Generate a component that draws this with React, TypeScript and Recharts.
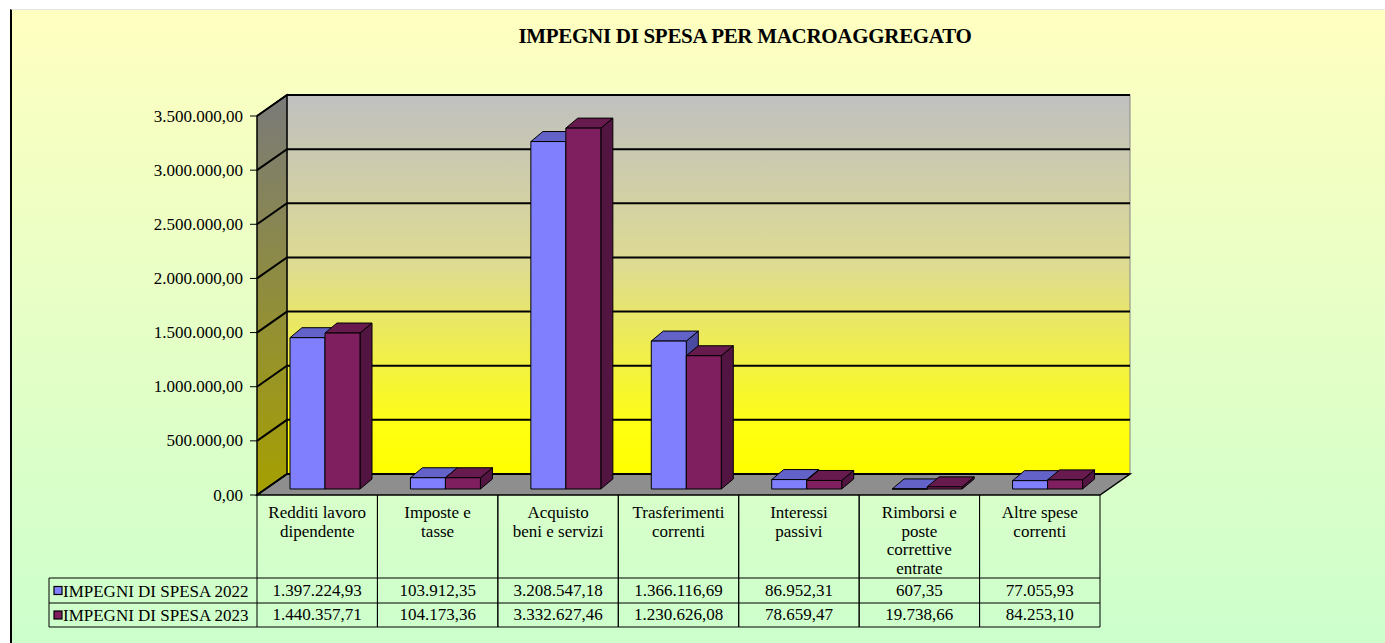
import React from 'react';
import { BarChart, Bar, XAxis, YAxis, CartesianGrid, ReferenceArea } from 'recharts';

const CATEGORIES = [
  'Redditi lavoro\ndipendente',
  'Imposte e\ntasse',
  'Acquisto\nbeni e servizi',
  'Trasferimenti\ncorrenti',
  'Interessi\npassivi',
  'Rimborsi e\nposte\ncorrettive\nentrate',
  'Altre spese\ncorrenti',
];
const SPESA_2022 = [1397224.93, 103912.35, 3208547.18, 1366116.69, 86952.31, 607.35, 77055.93];
const SPESA_2023 = [1440357.71, 104173.36, 3332627.46, 1230626.08, 78659.47, 19738.66, 84253.1];
const SERIES_NAMES = ['IMPEGNI DI SPESA 2022', 'IMPEGNI DI SPESA 2023'];
const Y_TICKS = [0, 500000, 1000000, 1500000, 2000000, 2500000, 3000000, 3500000];
const TITLE = 'IMPEGNI DI SPESA PER MACROAGGREGATO';

const data = CATEGORIES.map((name, i) => ({ name, s2022: SPESA_2022[i], s2023: SPESA_2023[i] }));

const FONT = "'Liberation Serif', 'Times New Roman', serif";
const FONT_SIZE = 17;

// plot area = plane of the bar fronts
const W = 1385;
const H = 643;
const PLOT_LEFT = 265;
const PLOT_RIGHT = 1108;
const PLOT_TOP = 110;
const PLOT_BOTTOM = 489;
const Y_AXIS_W = 60;
const X_AXIS_H = 30;
// offset from bar plane to front edge of the floor / axis
const FX = -8;
const FY = 6;
// full depth of the 3D box
const DX = 30;
const DY = -21;
// depth of bars
const BDX = 12;
const BDY = -10;

const COL_W = (PLOT_RIGHT - PLOT_LEFT) / CATEGORIES.length;
const ROW_HEAD_BOTTOM = 578;
const ROW1_BOTTOM = 603;
const ROW2_BOTTOM = 627;

const COLORS = [
  { front: '#8080FF', top: '#6262C8', side: '#4A4AA0' },
  { front: '#7F1F5F', top: '#661A4D', side: '#521440' },
];

const fmt = (v: number) => {
  const [int, dec] = v.toFixed(2).split('.');
  return int.replace(/\B(?=(\d{3})+(?!\d))/g, '.') + ',' + dec;
};

// serif label used for axis and table text
const T = ({ x, y, anchor = 'middle', children }: any) => (
  <text
    x={x}
    y={y}
    textAnchor={anchor}
    fill="#000"
    stroke="none"
    style={{ fontFamily: FONT, fontSize: FONT_SIZE }}
  >
    {children}
  </text>
);

const makeBox = (c: { front: string; top: string; side: string }) => (props: any) => {
  const { x, y, width, height } = props;
  if (x == null || y == null) return <g />;
  const h = Math.max(height, 0);
  const top = `M${x},${y} L${x + BDX},${y + BDY} L${x + width + BDX},${y + BDY} L${x + width},${y} Z`;
  const side = `M${x + width},${y} L${x + width + BDX},${y + BDY} L${x + width + BDX},${y + h + BDY} L${x + width},${y + h} Z`;
  return (
    <g stroke="#000" strokeWidth={1} strokeLinejoin="round">
      <path d={side} fill={c.side} />
      <path d={top} fill={c.top} />
      <rect x={x} y={y} width={width} height={h} fill={c.front} />
    </g>
  );
};

const Walls = (props: any) => {
  const { x, y, width, height } = props;
  const fl = x + FX;
  const fr = x + width + FX;
  const ft = y + FY;
  const fb = y + height + FY;
  const bl = fl + DX;
  const br = fr + DX;
  const bt = ft + DY;
  const bb = fb + DY;
  return (
    <g>
      <defs>
        <linearGradient id="backWall" x1="0" y1="0" x2="0" y2="1">
          <stop offset="0%" stopColor="#C0C0C0" />
          <stop offset="45%" stopColor="#DEDB92" />
          <stop offset="88%" stopColor="#FFFF10" />
          <stop offset="100%" stopColor="#FFFF00" />
        </linearGradient>
        <linearGradient id="sideWall" x1="0" y1="0" x2="0" y2="1">
          <stop offset="0%" stopColor="#7A7A7A" />
          <stop offset="100%" stopColor="#A6A000" />
        </linearGradient>
      </defs>
      <rect x={bl} y={bt} width={br - bl} height={bb - bt} fill="url(#backWall)" stroke="#888" strokeWidth={1} />
      <path d={`M${fl},${ft} L${bl},${bt} L${bl},${bb} L${fl},${fb} Z`} fill="url(#sideWall)" stroke="#000" strokeWidth={1.5} />
      <path d={`M${fl},${fb} L${bl},${bb} L${br},${bb} L${fr},${fb} Z`} fill="#8E8E8E" stroke="#000" strokeWidth={1.5} />
    </g>
  );
};

const gridLine = (props: any) => {
  const { x1, x2, y1, key } = props;
  const fl = x1 + FX;
  const yf = y1 + FY;
  return (
    <path
      key={key}
      d={`M${fl},${yf} L${fl + DX},${yf + DY} L${x2 + FX + DX},${yf + DY}`}
      fill="none"
      stroke="#000"
      strokeWidth={2}
    />
  );
};

const YTick = (props: any) => {
  const { y, payload } = props;
  const fl = PLOT_LEFT + FX;
  const yf = y + FY;
  return (
    <g>
      <line x1={fl - 7} x2={fl} y1={yf} y2={yf} stroke="#000" strokeWidth={1} />
      <T x={fl - 14} y={yf + 5.5} anchor="end">{fmt(payload.value)}</T>
    </g>
  );
};

const XTick = (props: any) => {
  const { x, payload, index } = props;
  const cx = x + FX;
  const left = cx - COL_W / 2;
  const right = cx + COL_W / 2;
  const top = PLOT_BOTTOM + FY;
  const lines = String(payload.value).split('\n');
  const series = [SPESA_2022, SPESA_2023];
  return (
    <g>
      <path
        d={`M${left},${top} L${left},${ROW2_BOTTOM} M${right},${top} L${right},${ROW2_BOTTOM} M${left},${ROW_HEAD_BOTTOM} L${right},${ROW_HEAD_BOTTOM} M${left},${ROW1_BOTTOM} L${right},${ROW1_BOTTOM} M${left},${ROW2_BOTTOM} L${right},${ROW2_BOTTOM}`}
        stroke="#000"
        strokeWidth={1}
        fill="none"
      />
      {lines.map((l, i) => (
        <T key={i} x={cx} y={518 + i * 18.7}>{l}</T>
      ))}
      <T x={cx} y={596}>{fmt(series[0][index])}</T>
      <T x={cx} y={620}>{fmt(series[1][index])}</T>
      {index === 0 && (
        <g>
          <path
            d={`M49,${ROW_HEAD_BOTTOM} L${left},${ROW_HEAD_BOTTOM} M49,${ROW1_BOTTOM} L${left},${ROW1_BOTTOM} M49,${ROW2_BOTTOM} L${left},${ROW2_BOTTOM} M49,${ROW_HEAD_BOTTOM} L49,${ROW2_BOTTOM}`}
            stroke="#000"
            strokeWidth={1}
            fill="none"
          />
          {SERIES_NAMES.map((n, i) => {
            const rowMid = i === 0 ? (ROW_HEAD_BOTTOM + ROW1_BOTTOM) / 2 : (ROW1_BOTTOM + ROW2_BOTTOM) / 2;
            return (
              <g key={n}>
                <rect x={54} y={rowMid - 4} width={8} height={8} fill={COLORS[i].front} stroke="#000" strokeWidth={1.2} />
                <T x={63} y={rowMid + 6} anchor="start">{n}</T>
              </g>
            );
          })}
        </g>
      )}
    </g>
  );
};

export default function App() {
  return (
    <div style={{ position: 'absolute', left: 0, top: 0, width: W, height: H, background: '#fff', overflow: 'hidden' }}>
      <div
        style={{
          position: 'absolute',
          left: 10,
          top: 9,
          right: 0,
          bottom: 0,
          background: 'linear-gradient(to bottom, #FFFFC0 0%, #CCFFCC 100%)',
          borderLeft: '2px solid #000',
          borderTop: '1px solid #e4e4e4',
        }}
      />
      <div
        style={{
          position: 'absolute',
          left: 445,
          width: 600,
          top: 24,
          textAlign: 'center',
          fontFamily: FONT,
          fontWeight: 'bold',
          fontSize: 21,
          letterSpacing: -0.3,
          color: '#000',
        }}
      >
        {TITLE}
      </div>
      <div style={{ position: 'absolute', left: 0, top: 0 }}>
        <BarChart
          width={W}
          height={H}
          data={data}
          margin={{
            top: PLOT_TOP,
            right: W - PLOT_RIGHT,
            bottom: H - PLOT_BOTTOM - X_AXIS_H,
            left: PLOT_LEFT - Y_AXIS_W,
          }}
          barGap={0}
          barSize={35}
        >
          <ReferenceArea y1={0} y2={3500000} shape={Walls} zIndex={-200} ifOverflow="visible" />
          <CartesianGrid horizontal={gridLine} vertical={false} />
          <XAxis
            dataKey="name"
            height={X_AXIS_H}
            interval={0}
            axisLine={false}
            tickLine={false}
            tick={XTick}
          />
          <YAxis
            width={Y_AXIS_W}
            domain={[0, 3500000]}
            ticks={Y_TICKS}
            interval={0}
            axisLine={false}
            tickLine={false}
            tick={YTick}
          />
          <Bar dataKey="s2022" name={SERIES_NAMES[0]} fill={COLORS[0].front} shape={makeBox(COLORS[0])} isAnimationActive={false} />
          <Bar dataKey="s2023" name={SERIES_NAMES[1]} fill={COLORS[1].front} shape={makeBox(COLORS[1])} isAnimationActive={false} />
        </BarChart>
      </div>
    </div>
  );
}
